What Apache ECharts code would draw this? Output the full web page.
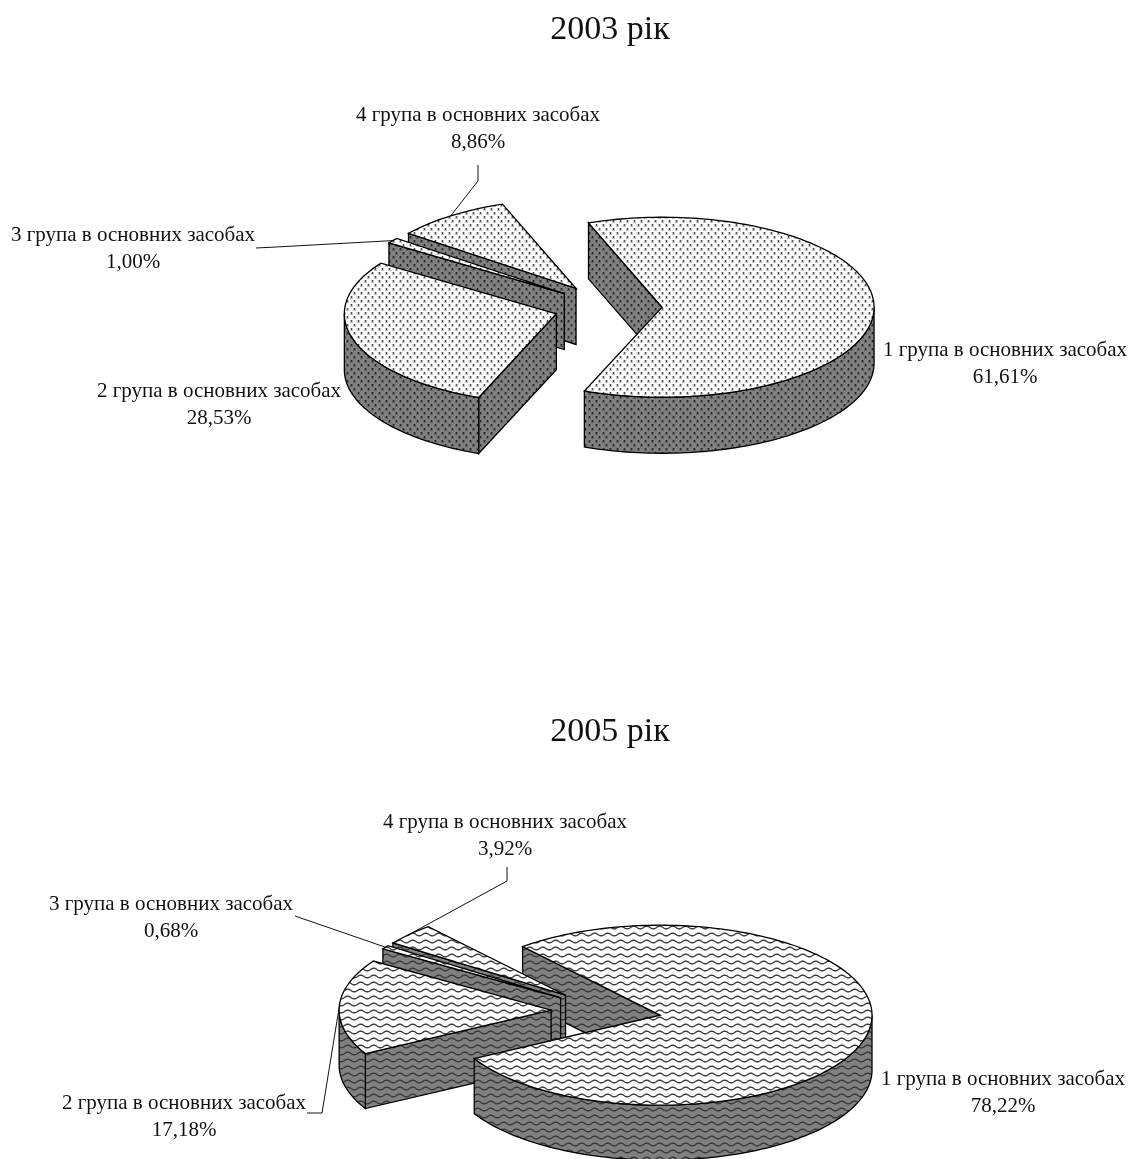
<!DOCTYPE html>
<html>
<head>
<meta charset="utf-8">
<title>Групи основних засобів</title>
<style>html,body{margin:0;padding:0;background:#fff}#chart{width:1138px;height:1159px}</style>
<script src="https://cdn.jsdelivr.net/npm/echarts@6/dist/echarts.min.js"></script>
</head>
<body>
<div id="chart"></div>
<script>
// Share of each asset group, per cent
const groupNames = ['1 група в основних засобах', '2 група в основних засобах', '3 група в основних засобах', '4 група в основних засобах'];
const values2003 = [61.61, 28.53, 1.00, 8.86];
const values2005 = [78.22, 17.18, 0.68, 3.92];
const yearTitles = ['2003 рік', '2005 рік'];

const FONT = '"Liberation Serif","Times New Roman",serif';
const OUTLINE = '#000';
const WALL = '#808080';

// Tiled fills: dots for one pie, waves for the other
function dotTile(bg) {
  const c = document.createElement('canvas'); c.width = 7; c.height = 8;
  const g = c.getContext('2d');
  g.fillStyle = bg; g.fillRect(0, 0, 7, 8);
  [[1, 1], [4, 5]].forEach(([x, y]) => {
    g.fillStyle = 'rgba(0,0,0,0.24)'; g.fillRect(x - 1, y - 1, 3, 3);
    g.fillStyle = 'rgba(0,0,0,0.6)'; g.fillRect(x, y - 1, 1, 2);
  });
  return { image: c, repeat: 'repeat' };
}
function waveTile(bg, ink) {
  const c = document.createElement('canvas'); c.width = 13; c.height = 7;
  const g = c.getContext('2d');
  g.fillStyle = bg; g.fillRect(0, 0, 13, 7);
  g.strokeStyle = ink; g.lineWidth = 1.4;
  g.beginPath();
  for (let x = -1; x <= 14; x += 0.5) {
    const y = 3.5 + 1.3 * Math.sin(x / 13 * 2 * Math.PI);
    x === -1 ? g.moveTo(x, y) : g.lineTo(x, y);
  }
  g.stroke();
  return { image: c, repeat: 'repeat' };
}

// Geometry of the two exploded pies; angles run clockwise from 12 o'clock
const pies = [
  {
    values: values2003, cx: 608, cy: 307, rx: 212, ry: 90, depth: 56, explode: 0.255, start: -20.3,
    top: dotTile('#fff'), side: dotTile(WALL),
    labels: [[1005, 364], [219, 405], [133, 249], [478, 129]],
    leaders: [null, null, [[256, 248], [276, 247]], [[478, 165], [478, 181]]]
  },
  {
    values: values2005, cx: 606, cy: 1011, rx: 212, ry: 90, depth: 55, explode: 0.259, start: -40.4,
    top: waveTile('#fff', 'rgba(0,0,0,0.75)'), side: waveTile(WALL, 'rgba(0,0,0,0.55)'),
    labels: [[1003, 1093], [184, 1117], [171, 918], [505, 836]],
    leaders: [null, [[307, 1113], [322, 1113]], [[295, 916]], [[507, 867], [507, 881]]]
  }
];

const percentText = v => v.toFixed(2).replace('.', ',') + '%';

function renderSlice(pie, i) {
  const total = pie.values.reduce((a, b) => a + b, 0);
  const before = pie.values.slice(0, i).reduce((a, b) => a + b, 0);
  const a0 = pie.start + before / total * 360;
  const a1 = a0 + pie.values[i] / total * 360;
  const mid = (a0 + a1) / 2;
  const rad = d => d * Math.PI / 180;
  const tipX = pie.cx + pie.explode * pie.rx * Math.sin(rad(mid));
  const tipY = pie.cy - pie.explode * pie.ry * Math.cos(rad(mid));
  const rim = d => [tipX + pie.rx * Math.sin(rad(d)), tipY - pie.ry * Math.cos(rad(d))];
  const drop = p => [p[0], p[1] + pie.depth];
  const tip = [tipX, tipY];
  const sweep = (from, to) => {
    const pts = [], n = Math.max(2, Math.ceil((to - from) / 1.5));
    for (let k = 0; k <= n; k++) pts.push(rim(from + (to - from) * k / n));
    return pts;
  };
  // later slices are painted first, the biggest slice goes over the rest
  const rank = 10 - i;
  const children = [];
  const face = (points, fill, z2) => children.push({
    type: 'polygon', z2, silent: true, shape: { points },
    style: { fill, stroke: OUTLINE, lineWidth: 1.3 }
  });

  // cut wall on the leading edge, visible only when it faces the viewer
  if (Math.sin(rad(a0)) < 0) {
    const p = rim(a0);
    face([tip, p, drop(p), drop(tip)], pie.side, i === 0 ? 1 : rank);
  }
  if (Math.sin(rad(a1)) > 0) {
    const p = rim(a1);
    face([tip, p, drop(p), drop(tip)], pie.side, rank);
  }
  // outer wall: only the front half of the rim, 90..270 degrees
  for (const shift of [0, 360, -360]) {
    const from = Math.max(a0 + shift, 90), to = Math.min(a1 + shift, 270);
    if (to > from) {
      const arc = sweep(from - shift, to - shift);
      face(arc.concat(arc.map(drop).reverse()), pie.side, rank);
    }
  }
  // top face
  face([tip].concat(sweep(a0, a1)), pie.top, rank);

  // leader line from the middle of the rim towards the label
  const route = pie.leaders[i];
  if (route) {
    children.push({
      type: 'polyline', z2: 20, silent: true,
      shape: { points: route.concat([rim(mid)]) },
      style: { fill: null, stroke: '#111', lineWidth: 1 }
    });
  }
  // two-line label: group name and share
  const [lx, ly] = pie.labels[i];
  children.push({
    type: 'text', z2: 30, silent: true,
    style: {
      x: lx, y: ly, text: groupNames[i] + '\n' + percentText(pie.values[i]),
      align: 'center', verticalAlign: 'middle', lineHeight: 27,
      font: '21px ' + FONT, fill: '#111'
    }
  });
  return { type: 'group', children };
}

const chart = echarts.init(document.getElementById('chart'), null, { renderer: 'canvas' });
chart.setOption({
  backgroundColor: '#fff',
  animation: false,
  title: yearTitles.map((text, k) => ({
    text, left: 605, top: k === 0 ? 8 : 710, textAlign: 'center',
    textStyle: { fontFamily: FONT, fontSize: 34, fontWeight: 'normal', color: '#111' }
  })),
  tooltip: { show: false },
  series: pies.map(pie => ({
    type: 'custom',
    coordinateSystem: 'none',
    silent: true,
    data: pie.values,
    renderItem: params => renderSlice(pie, params.dataIndex)
  }))
});
</script>
</body>
</html>
